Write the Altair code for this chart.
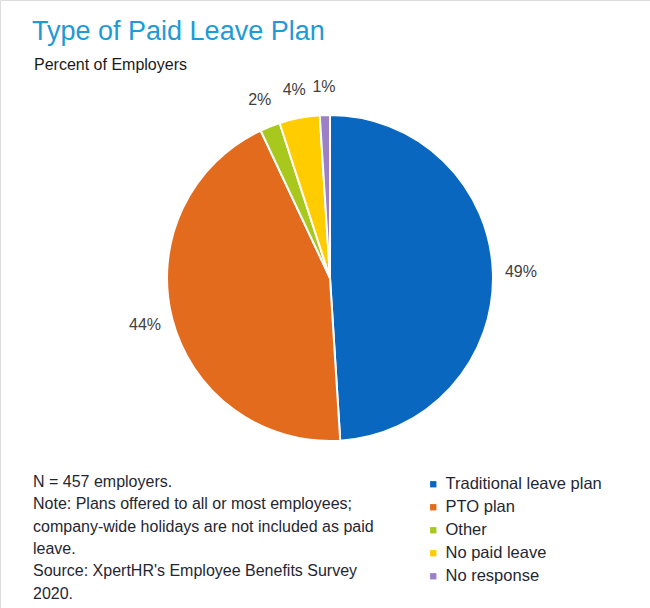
import altair as alt
import pandas as pd

categories = ["Traditional leave plan", "PTO plan", "Other", "No paid leave", "No response"]
values = [49, 44, 2, 4, 1]
labels = ["49%", "44%", "2%", "4%", "1%"]
colors = ["#0a67c0", "#e36b1d", "#a8c81e", "#ffcc00", "#9b80c6"]

title_text = "Type of Paid Leave Plan"
subtitle_text = "Percent of Employers"
note_lines = [
    "N = 457 employers.",
    "Note: Plans offered to all or most employees;",
    "company-wide holidays are not included as paid",
    "leave.",
    "Source: XpertHR's Employee Benefits Survey",
    "2020.",
]

df = pd.DataFrame({
    "category": categories,
    "value": values,
    "label": labels,
    "order": list(range(len(categories))),
})

FONT = "Liberation Sans"
CX, CY, R = 330, 278, 163

base = alt.Chart(df).encode(
    theta=alt.Theta("value:Q", stack=True),
    order=alt.Order("order:Q"),
)

pie = base.mark_arc(outerRadius=R, stroke="white", strokeWidth=2).encode(
    x=alt.value(CX),
    y=alt.value(CY),
    color=alt.Color(
        "category:N",
        scale=alt.Scale(domain=categories, range=colors),
        sort=categories,
        legend=alt.Legend(
            title=None,
            orient="none",
            legendX=425,
            legendY=476,
            symbolType="square",
            symbolSize=40,
            symbolStrokeWidth=0,
            labelFontSize=16.5,
            labelFont=FONT,
            labelColor="#1f2733",
            labelOffset=4,
            rowPadding=6,
            labelLimit=300,
        ),
    ),
)

text = base.mark_text(radius=191, fontSize=16, font=FONT, color="#404040",
                      align="center", baseline="middle").encode(
    x=alt.value(CX),
    y=alt.value(CY),
    text="label:N",
)

title = alt.Chart(pd.DataFrame({"t": [title_text]})).mark_text(
    align="left", baseline="alphabetic", fontSize=27, font=FONT, color="#1f9ad6"
).encode(x=alt.value(32), y=alt.value(40), text="t:N")

subtitle = alt.Chart(pd.DataFrame({"t": [subtitle_text]})).mark_text(
    align="left", baseline="alphabetic", fontSize=16, font=FONT, color="#1a1a1a"
).encode(x=alt.value(34), y=alt.value(70), text="t:N")

note = alt.Chart(pd.DataFrame({"t": [0]})).mark_text(
    align="left", baseline="alphabetic", fontSize=16, font=FONT, color="#1f2733",
    text=note_lines, lineHeight=22.3,
).encode(x=alt.value(33), y=alt.value(487))

chart = alt.layer(pie, text, title, subtitle, note).properties(
    width=650, height=608,
    autosize=alt.AutoSizeParams(type="none"),
    padding=0,
).configure_view(strokeWidth=0).configure(background="white")

chart.save("out.html", embed_options={"renderer": "svg", "actions": False})
